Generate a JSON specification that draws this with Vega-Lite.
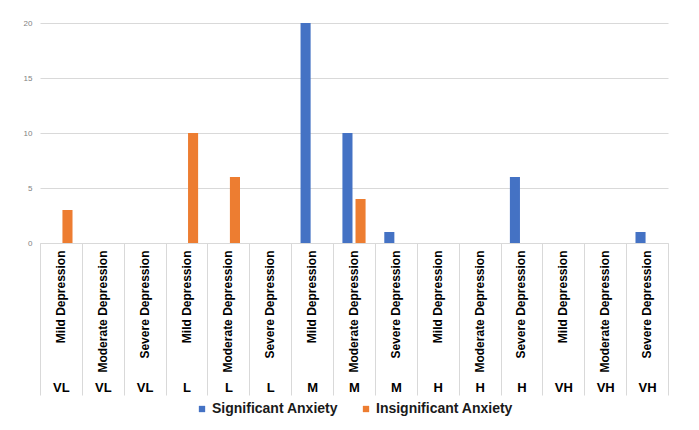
{
  "$schema": "https://vega.github.io/schema/vega-lite/v6.json",
  "width": 628,
  "height": 220,
  "autosize": "none",
  "padding": {"left": 40, "top": 23, "right": 31, "bottom": 187},
  "background": "white",
  "data": {
    "values": [
      {"cat": "VL-Mild Depression", "series": "Significant Anxiety", "count": 0},
      {"cat": "VL-Mild Depression", "series": "Insignificant Anxiety", "count": 3},
      {"cat": "VL-Moderate Depression", "series": "Significant Anxiety", "count": 0},
      {"cat": "VL-Moderate Depression", "series": "Insignificant Anxiety", "count": 0},
      {"cat": "VL-Severe Depression", "series": "Significant Anxiety", "count": 0},
      {"cat": "VL-Severe Depression", "series": "Insignificant Anxiety", "count": 0},
      {"cat": "L-Mild Depression", "series": "Significant Anxiety", "count": 0},
      {"cat": "L-Mild Depression", "series": "Insignificant Anxiety", "count": 10},
      {"cat": "L-Moderate Depression", "series": "Significant Anxiety", "count": 0},
      {"cat": "L-Moderate Depression", "series": "Insignificant Anxiety", "count": 6},
      {"cat": "L-Severe Depression", "series": "Significant Anxiety", "count": 0},
      {"cat": "L-Severe Depression", "series": "Insignificant Anxiety", "count": 0},
      {"cat": "M-Mild Depression", "series": "Significant Anxiety", "count": 20},
      {"cat": "M-Mild Depression", "series": "Insignificant Anxiety", "count": 0},
      {"cat": "M-Moderate Depression", "series": "Significant Anxiety", "count": 10},
      {"cat": "M-Moderate Depression", "series": "Insignificant Anxiety", "count": 4},
      {"cat": "M-Severe Depression", "series": "Significant Anxiety", "count": 1},
      {"cat": "M-Severe Depression", "series": "Insignificant Anxiety", "count": 0},
      {"cat": "H-Mild Depression", "series": "Significant Anxiety", "count": 0},
      {"cat": "H-Mild Depression", "series": "Insignificant Anxiety", "count": 0},
      {"cat": "H-Moderate Depression", "series": "Significant Anxiety", "count": 0},
      {"cat": "H-Moderate Depression", "series": "Insignificant Anxiety", "count": 0},
      {"cat": "H-Severe Depression", "series": "Significant Anxiety", "count": 6},
      {"cat": "H-Severe Depression", "series": "Insignificant Anxiety", "count": 0},
      {"cat": "VH-Mild Depression", "series": "Significant Anxiety", "count": 0},
      {"cat": "VH-Mild Depression", "series": "Insignificant Anxiety", "count": 0},
      {"cat": "VH-Moderate Depression", "series": "Significant Anxiety", "count": 0},
      {"cat": "VH-Moderate Depression", "series": "Insignificant Anxiety", "count": 0},
      {"cat": "VH-Severe Depression", "series": "Significant Anxiety", "count": 1},
      {"cat": "VH-Severe Depression", "series": "Insignificant Anxiety", "count": 0}
    ]
  },
  "resolve": {"scale": {"x": "shared"}, "axis": {"x": "independent"}},
  "layer": [
    {
      "mark": {"type": "bar"},
      "encoding": {
        "x": {
          "field": "cat",
          "type": "nominal",
          "sort": null,
          "scale": {"paddingInner": 0, "paddingOuter": 0},
          "axis": {
            "orient": "bottom",
            "title": null,
            "labelExpr": "split(datum.value, '-')[1]",
            "labelAngle": -90,
            "labelFont": "Liberation Sans",
            "labelFontSize": 12,
            "labelFontWeight": "bold",
            "labelColor": "#000000",
            "labelPadding": 7,
            "ticks": false,
            "domainColor": "#d9d9d9",
            "grid": false
          }
        },
        "xOffset": {
          "field": "series",
          "type": "nominal",
          "scale": {"domain": ["Significant Anxiety", "Insignificant Anxiety"], "paddingInner": 0.23, "paddingOuter": 0.715}
        },
        "y": {
          "field": "count",
          "type": "quantitative",
          "scale": {"domain": [0, 20]},
          "axis": {
            "title": null,
            "values": [0, 5, 10, 15, 20],
            "domain": false,
            "ticks": false,
            "gridColor": "#d9d9d9",
            "labelFont": "Liberation Sans",
            "labelFontSize": 8,
            "labelColor": "#7f7f7f",
            "labelPadding": 8
          }
        },
        "color": {
          "field": "series",
          "type": "nominal",
          "scale": {"domain": ["Significant Anxiety", "Insignificant Anxiety"], "range": ["#4472C4", "#ED7D31"]},
          "legend": {
            "title": null,
            "orient": "bottom",
            "direction": "horizontal",
            "symbolType": "square",
            "symbolSize": 40,
            "labelFont": "Liberation Sans",
            "labelFontSize": 14,
            "labelFontWeight": "bold",
            "labelColor": "#1a1a1a",
            "columnPadding": 20,
            "labelOffset": 3,
            "offset": 6
          }
        }
      }
    },
    {
      "mark": {"type": "rule", "strokeOpacity": 0},
      "encoding": {
        "x": {
          "field": "cat",
          "type": "nominal",
          "sort": null,
          "axis": {
            "orient": "bottom",
            "title": null,
            "labelExpr": "isString(datum.value) ? split(datum.value, '-')[0] : ''",
            "labelAngle": 0,
            "labelFont": "Liberation Sans",
            "labelFontSize": 13,
            "labelFontWeight": "bold",
            "labelColor": "#000000",
            "labelPadding": -14,
            "ticks": true,
            "tickBand": "extent",
            "tickSize": 152,
            "tickColor": "#d9d9d9",
            "tickWidth": 1,
            "domain": false,
            "grid": false
          }
        }
      }
    }
  ],
  "config": {
    "view": {"stroke": null},
    "legend": {"layout": {"bottom": {"anchor": "middle"}}}
  }
}
